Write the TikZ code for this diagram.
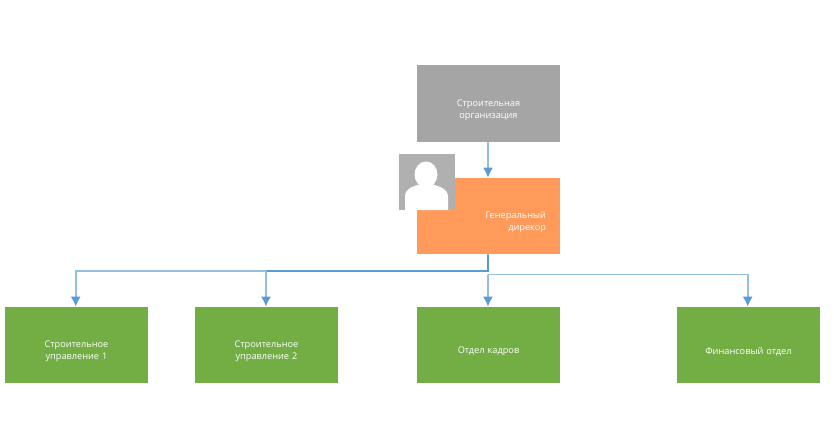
\documentclass[tikz,border=0pt]{standalone}
\usepackage{fontspec}
\setmainfont{Open Sans}
\usetikzlibrary{arrows.meta,positioning,calc}
\definecolor{topgray}{HTML}{A5A5A5}
\definecolor{chieforange}{HTML}{FF9A5B}
\definecolor{deptgreen}{HTML}{72AE43}
\definecolor{wireblue}{HTML}{5B9BD5}
\definecolor{wirelight}{HTML}{94BEE3}
\definecolor{photogray}{HTML}{B0B0B0}
\tikzset{
    orgbox/.style={minimum width=107.25pt, minimum height=57pt, inner sep=0pt, text height=15pt,
        text width=100pt, text=white, align=center, font=\fontsize{6.9}{9}\selectfont},
    feed/.style={draw=wirelight, line width=1.4pt, -{Latex[length=7.5pt,width=7.5pt,color=wireblue]}},
    trunk/.style={draw=wireblue, line width=1.4pt}
}

\begin{document}
\begin{tikzpicture}[x=0.75pt, y=-0.75pt]
    \useasboundingbox (0,0) rectangle (834,442);

    % Boxes
    \node[orgbox, fill=topgray, minimum height=57.75pt] (org) at (488.5,103.5) {Строительная\\организация};
    \node[orgbox, fill=chieforange, align=right, text width=86.25pt] (chief) at (488.5,216)
        {Генеральный\\дирекор};
    \node[orgbox, fill=deptgreen] (dept1) at (76.5,345) {Строительное\\управление 1};
    \node[orgbox, fill=deptgreen] (dept2) at (266.5,345) {Строительное\\управление 2};
    \node[orgbox, fill=deptgreen] (dept3) at (488.5,345) {Отдел кадров};
    \node[orgbox, fill=deptgreen] (dept4) at (748.5,345) {Финансовый отдел};

    % Photo
    \node[fill=photogray, minimum size=42pt, inner sep=0pt] (photo) at (427,182) {};
    \fill[white] (426,174.5) ellipse (11.5 and 13);
    \fill[white] (405,210) -- (405,197) .. controls (405,188) and (413,186.5) .. (419,184.5)
        -- (433,184.5) .. controls (439,186.5) and (448,188) .. (448,197) -- (448,210) -- cycle;

    % Connectors
    \coordinate (busa) at (488,271);
    \coordinate (busb) at (488,274.5);
    \draw[feed] ([xshift=-0.4pt]org.south) -- ([xshift=-0.4pt]chief.north);
    \draw[feed] (busa) -| ([xshift=-0.6pt]dept1.north);
    \draw[feed] (busa) -| ([xshift=-0.4pt]dept2.north);
    \draw[feed] (busb) -- ([xshift=-0.4pt]dept3.north);
    \draw[feed] (busb) -| ([xshift=-0.6pt]dept4.north);
    \draw[trunk] ([xshift=-0.4pt]chief.south) -- (busa) -- (busa -| dept2.north);
\end{tikzpicture}
\end{document}
